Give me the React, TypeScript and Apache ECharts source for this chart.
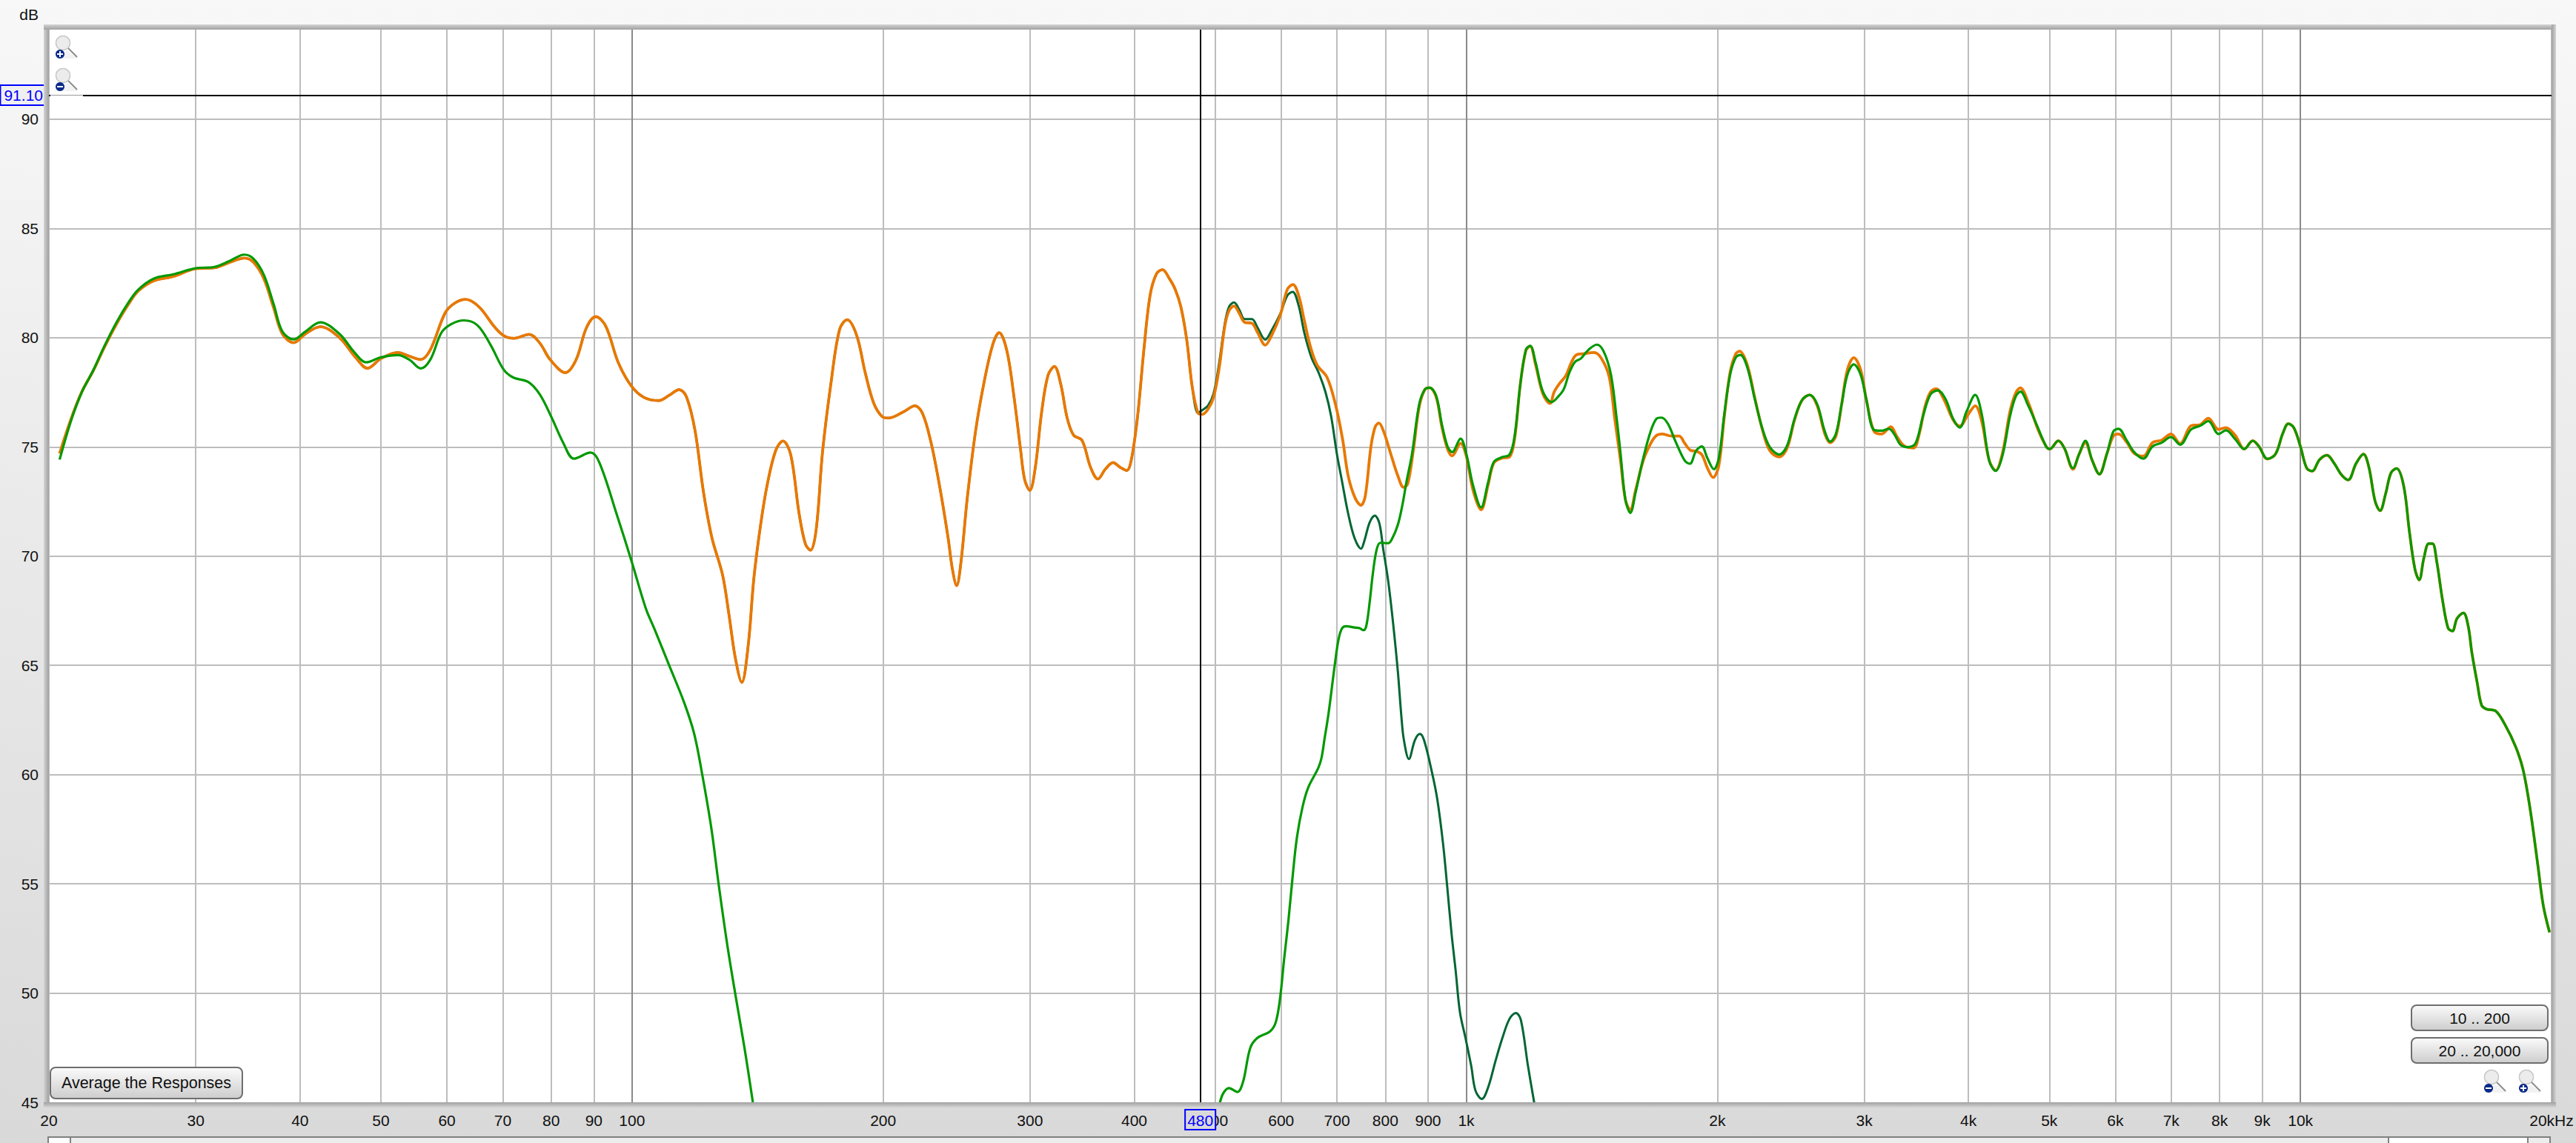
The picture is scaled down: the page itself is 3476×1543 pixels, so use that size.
import React, { useEffect, useRef } from "react";
import * as echarts from "echarts";

type Pt = [number, number];

const FONT = "Liberation Sans";
const xLabels: [number, string][] = [
  [20, "20"], [30, "30"], [40, "40"], [50, "50"], [60, "60"], [70, "70"], [80, "80"], [90, "90"],
  [100, "100"], [200, "200"], [300, "300"], [400, "400"], [500, "500"], [600, "600"], [700, "700"], [800, "800"], [900, "900"],
  [1000, "1k"], [2000, "2k"], [3000, "3k"], [4000, "4k"], [5000, "5k"], [6000, "6k"], [7000, "7k"], [8000, "8k"], [9000, "9k"],
  [10000, "10k"], [20000, "20kHz"],
];
const decades = [100, 1000, 10000];
const cursorFreq = 480;
const cursorDb = 91.1;

// shared between orange and dark-green below ~480 Hz
const lowCommon: Pt[] = [
  [20.6,74.7],[21.26,76.28],[21.9,77.52],[22.6,78.48],[23.3,79.55],[24.1,80.62],[24.9,81.52],[25.6,82.14],[26.7,82.6],[28.2,82.8],
  [30,83.16],[31.6,83.2],[32.9,83.44],[34.3,83.64],[35.2,83.44],[36.2,82.7],[37.2,81.35],[38.1,80.17],[39.3,79.77],[40.6,80.17],
  [42.3,80.5],[44.6,80],[46.5,79.15],[48.2,78.6],[50,79.04],[52.4,79.32],[54.1,79.15],[55.8,79],[57.3,79.44],[59.7,81.13],
  [61.3,81.58],[63.2,81.75],[65.6,81.4],[68.4,80.5],[70.2,80.09],[72.1,79.97],[75.3,80.15],[77.5,79.76],[79.8,78.99],[83.2,78.4],
  [85.7,78.99],[88.2,80.46],[90.5,80.96],[93,80.53],[96.3,78.85],[99.8,77.79],[103.3,77.27],[107.7,77.12],[110.9,77.37],[113.9,77.62],
  [116.2,77.3],[119,75.75],[121.8,72.94],[124.7,70.83],[128.4,69.14],[130.7,67.31],[133,65.34],[135.4,64.22],[137.8,65.9],[140,69],
  [142.7,71.5],[145.3,73.3],[148.7,74.84],[151.7,75.27],[155,74.63],[158.6,71.95],[161.4,70.55],[163.7,70.27],[166.3,71.25],[169.2,74.77],
  [173.3,78],[177.4,80.39],[181.1,80.82],[185.9,80.11],[190.3,78.42],[194.8,77.02],[199.4,76.39],[203,76.32],[211.5,76.6],[218.3,76.88],
  [223,76.53],[228.3,75.19],[233.7,73.22],[239.3,70.83],[242.1,69.42],[245,68.65],[247.9,69.7],[252.3,72.66],[258.2,75.75],[264.4,78],
  [270.7,79.69],[275.5,80.23],[281.4,79.41],[287,77.3],[292.2,74.91],[295.6,73.5],[299.8,73.01],[304.4,74.06],[309.8,76.6],[315.3,78.28],
  [320.9,78.68],[326.6,77.86],[332.4,76.32],[338.3,75.54],[346.3,75.3],[354.6,74.06],[361.8,73.53],[369.5,73.99],[377.3,74.28],[384.9,74.06],
  [391.8,73.92],[396.5,74.35],[403.5,76.32],[410.7,79.41],[417.9,81.94],[425.4,82.93],[432.5,83.11],[440.6,82.71],[448,82.2],[455,81.4],
  [462.4,79.89],[469.5,77.73],[477,76.55],
];

const orangeMid: Pt[] = [
  [482.5,76.49],[490.3,76.72],[498,77.28],[505.8,78.64],[513.8,80.57],[519.8,81.25],[526.8,81.45],[534.2,81.13],[542.6,80.7],[553.4,80.66],
  [562.3,80.23],[574.2,79.66],[584.6,80.11],[598.4,81.02],[610.3,82.21],[619.9,82.43],[629.7,81.93],[639.6,80.79],[649.7,79.66],[662.5,78.75],
  [680.9,78.19],[697.1,76.94],[710.8,75.36],[722.1,73.66],[736.3,72.64],[748,72.33],[756.8,72.75],[768.8,75.02],[777.9,75.92],[785.8,76.09],
  [796.3,75.7],[812,74.68],[828.3,73.66],[841.3,73.15],[851.1,73.32],[864.6,74.9],[878.2,76.83],[891.9,77.62],[903.9,77.71],[920.4,77.28],
  [934.9,75.92],[949.7,74.9],[962,74.59],[984.5,75.16],[1000,74.6],[1019,73.02],[1042,72.12],[1062,73.24],[1079,74.26],[1102,74.48],
  [1127,74.54],[1143,75.38],[1161,77.86],[1179,79.41],[1193,79.61],[1211,78.76],[1236,77.41],[1260,76.99],[1275,77.52],[1295,77.92],
  [1316,78.25],[1337,78.87],[1355,79.21],[1386,79.27],[1423,79.32],[1453,79.04],[1484,78.2],[1507,76.28],[1531,74.37],[1552,72.57],
  [1573,72.12],[1596,73.02],[1630,74.37],[1664,75.16],[1690,75.52],[1717,75.59],[1762,75.5],[1800,75.5],[1828,75.16],[1858,74.84],
  [1886,74.8],[1916,74.65],[1946,74.03],[1977,73.6],[2008,74.14],[2039,76.4],[2072,78.42],[2105,79.27],[2127,79.38],[2172,78.76],
  [2218,77.24],[2265,75.78],[2312,74.82],[2373,74.54],[2424,74.93],[2475,76.23],[2526,77.13],[2580,77.38],[2634,76.9],[2690,75.61],
  [2731,75.19],[2775,75.5],[2819,76.96],[2864,78.54],[2915,79.08],[2970,78.54],[3017,77.18],[3081,75.72],[3146,75.59],[3229,75.92],
  [3280,75.5],[3349,75.05],[3437,74.95],[3493,75.61],[3548,76.85],[3603,77.52],[3659,77.66],[3737,77.18],[3835,76.23],[3905,75.95],
  [4000,76.51],[4075,76.88],[4149,76.17],[4236,74.37],[4312,73.92],[4393,74.71],[4486,76.62],[4557,77.47],[4614,77.7],[4726,76.96],
  [4842,75.83],[4957,75.02],[5007,74.9],[5126,75.28],[5214,74.93],[5337,73.98],[5429,74.67],[5524,75.19],[5625,74.41],[5741,73.75],
  [5860,74.67],[5967,75.5],[6052,75.59],[6194,75.2],[6321,74.7],[6483,74.58],[6647,75.19],[6818,75.31],[6995,75.59],[7174,75.15],
  [7396,75.97],[7586,76.02],[7755,76.31],[7979,75.8],[8141,75.88],[8349,75.54],
];

const darkHigh: Pt[] = [
  [482.5,76.68],[490.3,76.89],[498,77.45],[505.8,78.87],[513.8,80.68],[519.8,81.42],[526.8,81.61],[534.2,81.3],[542.6,80.85],[553.4,80.85],
  [562.3,80.45],[574.2,79.91],[584.6,80.34],[598.4,81.08],[610.3,81.93],[619.3,82.1],[629.7,81.47],[639.6,80.23],[652.4,79.09],[665.2,78.41],
  [678.1,77.51],[688.9,76.38],[699.8,74.68],[710,73.4],[722,71.94],[735,70.81],[748,70.34],[755,70.7],[766,71.54],[777,71.86],
  [787,71.49],[795,70.36],[806,68.9],[817,66.98],[828,64.73],[836,62.7],[842,61.58],[853.7,60.71],[868,61.58],[880,61.86],
  [890,61.58],[908.9,60.18],[923.2,58.88],[937.8,56.88],[948.9,54.88],[960.1,52.76],[971.4,51],[982.9,49.12],[998,47.94],[1014,46.65],
  [1026,45.53],[1044,45.15],[1063,45.71],[1084,46.88],[1105,47.94],[1127,48.82],[1147,49.09],[1163,48.76],[1186,46.65],[1207,44.94],
];

const greenLow: Pt[] = [
  [20.6,74.42],[21.26,76.2],[21.9,77.5],[22.6,78.5],[23.3,79.6],[24.1,80.7],[24.9,81.6],[25.6,82.2],[26.7,82.7],[28.2,82.9],
  [30,83.18],[31.6,83.24],[32.9,83.5],[34.3,83.8],[35.2,83.6],[36.2,82.87],[37.2,81.52],[38.1,80.28],[39.3,79.92],[40.6,80.28],
  [42.3,80.7],[44.6,80.17],[46.5,79.32],[48,78.87],[50,79.1],[52.4,79.2],[54.1,78.99],[55.8,78.59],[57.3,78.99],[59.1,80.23],
  [60.7,80.62],[62.9,80.79],[65.3,80.56],[67.7,79.66],[70.2,78.53],[72.1,78.17],[75.1,77.97],[77.5,77.41],[80,76.39],[82.7,75.19],
  [85.2,74.46],[89.2,74.74],[91.4,74.28],[95.8,71.95],[100,69.7],[103.9,67.6],[106.4,66.66],[110.8,65],[115.5,63.29],[118.7,61.88],
  [121.5,59.92],[124.5,57.53],[127,55],[130.1,52.19],[133.2,49.8],[136.5,47.42],[139.6,45],
];

const greenHigh: Pt[] = [
  [506.4,44.94],[511.4,45.41],[519.5,45.65],[531.8,45.47],[540.2,45.94],[550.8,47.47],[561.7,47.94],[581.7,48.24],[591,48.65],[598,49.71],
  [605.1,51.59],[612.3,53.35],[619.4,55.35],[626.7,57.12],[636.6,58.53],[646.6,59.41],[664.5,60.29],[670.7,60.76],[676,61.58],[684,62.82],
  [696,65.07],[703,66.19],[710,66.7],[718,66.79],[735,66.73],[745,66.7],[753,66.61],[759,66.81],[766,67.88],[773,69.23],
  [781,70.3],[789,70.61],[806,70.59],[814,70.75],[828,71.43],[839,72.39],[848,73.4],[861.1,74.68],[878.2,76.94],[891.9,77.62],
  [903.9,77.71],[920.4,77.34],[934.9,76.04],[949.7,75.02],[962,74.76],[984.5,75.38],[1000,74.7],[1019,73.24],[1042,72.23],[1062,73.36],
  [1079,74.31],[1102,74.52],[1127,74.65],[1143,75.5],[1161,77.86],[1179,79.44],[1193,79.63],[1211,78.87],[1236,77.52],[1266,77.05],
  [1289,77.3],[1309,77.64],[1330,78.42],[1351,78.9],[1372,79.04],[1401,79.44],[1434,79.68],[1461,79.38],[1491,78.31],[1515,76.28],
  [1531,74.71],[1552,72.57],[1573,71.98],[1596,72.91],[1630,74.48],[1664,75.72],[1690,76.28],[1714,76.34],[1745,76.06],[1781,75.27],
  [1828,74.37],[1854,74.23],[1886,74.82],[1916,75.02],[1946,74.48],[1981,73.98],[2008,74.48],[2039,76.51],[2072,78.31],[2105,79.1],
  [2131,79.21],[2172,78.65],[2218,77.18],[2265,75.83],[2312,74.99],[2373,74.65],[2424,75.05],[2475,76.28],[2526,77.13],[2580,77.38],
  [2634,76.96],[2690,75.72],[2731,75.24],[2775,75.61],[2819,76.96],[2864,78.31],[2915,78.78],[2970,78.31],[3017,77.18],[3081,75.78],
  [3146,75.74],[3212,75.83],[3263,75.55],[3315,75.1],[3384,74.99],[3456,75.16],[3528,76.4],[3603,77.41],[3678,77.58],[3756,77.18],
  [3835,76.28],[3905,75.89],[3979,76.62],[4075,77.38],[4149,76.51],[4236,74.37],[4312,73.9],[4393,74.59],[4486,76.4],[4557,77.3],
  [4618,77.53],[4713,76.92],[4834,75.97],[4957,75.02],[5007,74.9],[5126,75.28],[5214,74.93],[5337,74.03],[5429,74.67],[5524,75.28],
  [5625,74.41],[5741,73.75],[5860,74.67],[5967,75.71],[6052,75.83],[6194,75.28],[6321,74.76],[6483,74.46],[6647,75.02],[6818,75.19],
  [6995,75.45],[7174,75.1],[7396,75.8],[7586,75.97],[7755,76.18],[7979,75.59],[8141,75.76],[8349,75.36],
];

// both orange and green follow this above ~8.5 kHz
const tailCommon: Pt[] = [
  [8565,74.9],[8766,75.28],[8919,75.02],[9129,74.45],[9335,74.67],[9526,75.62],[9672,76.06],[9819,75.88],[10000,75.02],[10174,74.03],
  [10330,73.89],[10540,74.41],[10760,74.62],[10980,74.24],[11200,73.72],[11410,73.49],[11660,74.24],[11900,74.67],[12080,74.07],[12290,72.51],
  [12460,72.08],[12650,72.85],[12840,73.81],[13040,74.01],[13300,73.2],[13510,71.12],[13720,69.39],[13880,68.91],[14060,69.91],[14250,70.57],
  [14400,70.57],[14570,69.74],[14800,68.01],[15030,66.71],[15210,66.57],[15410,67.15],[15680,67.4],[15890,66.8],[16050,65.59],[16290,64.2],
  [16490,63.17],[16710,63],[17140,62.91],[17580,62.3],[18120,61.26],[18490,60.22],[18870,58.32],[19250,55.9],[19550,54],[19890,52.78],
];

const orange: Pt[] = [...lowCommon, ...orangeMid, ...tailCommon];
const darkGreen: Pt[] = [...lowCommon, ...darkHigh];
const green: Pt[] = [...greenHigh, ...tailCommon];

const PANEL = "#d9d9d9";

function lens(cx: number, cy: number, plus: boolean): any[] {
  const els: any[] = [
    { type: "polygon", z: 50, shape: { points: [[cx - 12, cy + 21], [cx + 20, cy + 21], [cx + 6, cy + 10]] }, style: { fill: "#f2f2f2" } },
    { type: "circle", z: 51, shape: { cx, cy, r: 9.5 }, style: { fill: "#ececec", stroke: "#c8c8c8", lineWidth: 1.5 } },
    { type: "line", z: 51, shape: { x1: cx + 7, y1: cy + 7, x2: cx + 19, y2: cy + 19 }, style: { stroke: "#8c8c8c", lineWidth: 2 } },
    { type: "circle", z: 52, shape: { cx: cx - 4, cy: cy + 15, r: 6 }, style: { fill: "#0a2a8a" } },
    { type: "rect", z: 53, shape: { x: cx - 8, y: cy + 14, width: 8, height: 2 }, style: { fill: "#fff" } },
  ];
  if (plus) els.push({ type: "rect", z: 53, shape: { x: cx - 5, y: cy + 11, width: 2, height: 8 }, style: { fill: "#fff" } });
  return els;
}

function button(x: number, y: number, w: number, h: number, label: string, size: number): any[] {
  return [
    {
      type: "rect", z: 60, shape: { x, y, width: w, height: h, r: 7 },
      style: {
        fill: new echarts.graphic.LinearGradient(0, 0, 0, 1, [
          { offset: 0, color: "#fbfbfb" }, { offset: 1, color: "#cdcdcd" },
        ]),
        stroke: "#6e6e6e", lineWidth: 2,
      },
    },
    {
      type: "text", z: 61, x: x + w / 2, y: y + h / 2,
      style: { text: label, fill: "#111", font: `${size}px "${FONT}"`, align: "center", verticalAlign: "middle" },
    },
  ];
}

function strip(x: number, y: number, w: number, h: number, horizontal: boolean, inward: boolean): any {
  const stops = [
    { offset: 0, color: "#d4d4d4" }, { offset: 0.6, color: "#b4b4b4" }, { offset: 1, color: "#a2a2a2" },
  ];
  const c = inward ? stops : stops.slice().reverse().map((s, i) => ({ offset: [0, 0.4, 1][i], color: s.color }));
  return {
    type: "rect", z: 40, shape: { x, y, width: w, height: h },
    style: { fill: new echarts.graphic.LinearGradient(0, 0, horizontal ? 0 : 1, horizontal ? 1 : 0, c) },
  };
}

export default function App() {
  const ref = useRef<HTMLDivElement>(null);
  useEffect(() => {
    document.body.style.margin = "0";
    const chart = echarts.init(ref.current!, undefined, { renderer: "svg" });

    const lineSeries = (name: string, data: Pt[], color: string, width: number, z: number) => ({
      name, type: "line", data, smooth: 0.35, showSymbol: false, symbol: "none", z,
      lineStyle: { color, width, join: "round" }, silent: true, clip: true, animation: false,
    });

    chart.setOption({
      animation: false,
      backgroundColor: new echarts.graphic.LinearGradient(0, 0, 0, 1, [
        { offset: 0, color: "#f8f8f8" }, { offset: 1, color: PANEL },
      ]),
      grid: { left: 66, right: 33, top: 40, bottom: 55, show: true, backgroundColor: "#ffffff", borderWidth: 0, containLabel: false },
      textStyle: { fontFamily: FONT },
      xAxis: {
        type: "log", logBase: 10, min: 20, max: 20000,
        axisLine: { show: false }, axisTick: { show: false }, axisLabel: { show: false }, splitLine: { show: false },
      },
      yAxis: {
        type: "value", min: 45, max: 94.1, interval: 5,
        name: "dB", nameLocation: "end", nameGap: 10,
        nameTextStyle: { color: "#111", fontSize: 21, fontFamily: FONT, align: "right", padding: [0, 14, 0, 0] },
        axisLine: { show: false }, axisTick: { show: false },
        axisLabel: {
          color: "#111", fontSize: 21, fontFamily: FONT, margin: 14, padding: [3, 0, 0, 0],
          formatter: (v: number) => (v % 5 === 0 ? String(v) : ""),
        },
        splitLine: { show: true, showMinLine: false, showMaxLine: false, lineStyle: { color: "#bdbdbd", width: 2 } },
      },
      series: [
        {
          type: "line", data: [[20, 45]], showSymbol: false, symbol: "none", silent: true, z: 1,
          lineStyle: { width: 0 },
          markLine: {
            silent: true, symbol: ["none", "none"], z: 1, animation: false,
            label: { show: true, position: "start", distance: 14, color: "#111", fontSize: 21, fontFamily: FONT },
            data: xLabels.map(([f, t]) => ({
              xAxis: f,
              label: { formatter: t },
              lineStyle: { color: decades.includes(f) ? "#8a8a8a" : "#bdbdbd", width: 2, type: "solid" },
            })),
          },
        },
        lineSeries("Dark green", darkGreen, "#006633", 3, 3),
        lineSeries("Orange", orange, "#e87800", 3.8, 4),
        lineSeries("Green low", greenLow, "#009900", 3.2, 5),
        lineSeries("Green high", green, "#009900", 3.2, 5),
        {
          type: "line", data: [[20, 45]], showSymbol: false, symbol: "none", silent: true, z: 6,
          lineStyle: { width: 0 },
          markLine: {
            silent: true, symbol: ["none", "none"], z: 30, animation: false,
            data: [
              {
                xAxis: cursorFreq,
                lineStyle: { color: "#000", width: 2, type: "solid" },
                label: {
                  show: true, position: "start", distance: 11, formatter: "480", color: "#0000ff", fontSize: 21, fontFamily: FONT,
                  backgroundColor: PANEL, borderColor: "#0000ff", borderWidth: 2, padding: [3, 2, 1, 2],
                },
              },
              {
                yAxis: cursorDb,
                lineStyle: { color: "#000", width: 2, type: "solid" },
                label: {
                  show: true, position: "start", distance: 4, formatter: "91.10", color: "#0000ff", fontSize: 21, fontFamily: FONT,
                  backgroundColor: "#f0f0f0", borderColor: "#0000ff", borderWidth: 2, padding: [3, 4, 1, 4],
                },
              },
            ],
          },
        },
      ],
      graphic: { elements: [
        strip(59, 33, 7, 1462, false, true),
        strip(59, 33, 3390, 7, true, true),
        strip(3443, 33, 6, 1462, false, false),
        strip(59, 1488, 3390, 7, true, false),
        { type: "rect", z: 45, shape: { x: 68, y: 127, width: 44, height: 4 }, style: { fill: "#ffffff" } },
        { type: "rect", z: 45, shape: { x: 68, y: 128, width: 44, height: 1 }, style: { fill: "#9a9a9a" } },
        ...lens(85, 58, true),
        ...lens(85, 102, false),
        ...lens(3362, 1454, false),
        ...lens(3409, 1454, true),
        ...button(68, 1441, 259, 42, "Average the Responses", 21.5),
        ...button(3254, 1357, 184, 34, "10 .. 200", 21),
        ...button(3254, 1401, 184, 34, "20 .. 20,000", 21),
        { type: "rect", z: 70, shape: { x: 65, y: 1535, width: 3376, height: 10 }, style: { fill: "#ededed", stroke: "#808080", lineWidth: 2 } },
        { type: "rect", z: 71, shape: { x: 65, y: 1535, width: 30, height: 10 }, style: { fill: "#fdfdfd", stroke: "#808080", lineWidth: 2 } },
        { type: "rect", z: 71, shape: { x: 3223, y: 1535, width: 188, height: 10 }, style: { fill: "#ffffff", stroke: "#808080", lineWidth: 2 } },
      ] },
    });
    return () => chart.dispose();
  }, []);
  return <div ref={ref} style={{ width: 3476, height: 1543 }} />;
}
